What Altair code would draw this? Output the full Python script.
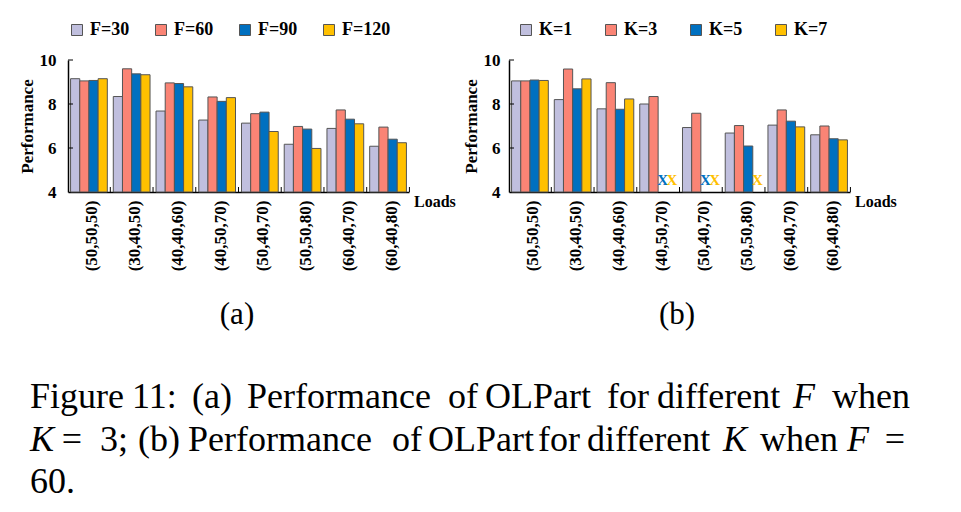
import json
import altair as alt
import pandas as pd

# ---------------- data ----------------
loads = ["(50,50,50)", "(30,40,50)", "(40,40,60)", "(40,50,70)",
         "(50,40,70)", "(50,50,80)", "(60,40,70)", "(60,40,80)"]

f_series = ["F=30", "F=60", "F=90", "F=120"]
f30 = [9.15, 8.34, 7.68, 7.27, 7.13, 6.17, 6.89, 6.08]
f60 = [9.05, 9.60, 8.96, 8.32, 7.56, 6.98, 7.73, 6.95]
f90 = [9.07, 9.37, 8.93, 8.12, 7.63, 6.86, 7.31, 6.40]
f120 = [9.15, 9.33, 8.78, 8.29, 6.75, 5.98, 7.10, 6.24]

k_series = ["K=1", "K=3", "K=5", "K=7"]
k1 = [9.05, 8.20, 7.78, 8.00, 6.93, 6.68, 7.04, 6.60]
k3 = [9.05, 9.59, 8.97, 8.34, 7.58, 7.02, 7.73, 7.00]
k5 = [9.09, 8.69, 7.76, None, None, 6.09, 7.22, 6.42]
k7 = [9.07, 9.14, 8.23, None, None, None, 6.96, 6.37]

y_ticks = [4, 6, 8, 10]

colors = ["#C0BFDE", "#FA8475", "#0070C0", "#FFC000"]
x_colors = ["#C0BFDE", "#FA8475", "#2F8AD6", "#FFC000"]

# ---------------- layout ----------------
W, H = 341, 132
OX, OY = 68, 60          # absolute position of panel (a) plot origin
BX = 509                 # absolute x of panel (b) plot origin
SERIF = "Liberation Serif"
GROUP_FILL = 0.86        # share of each category slot covered by its 4 bars
X_DOMAIN = [-0.49, len(loads) - 0.51]

caption_words = [
    # text, x, baseline y, italic, align
    ("Figure", 30, 408, False, "left"), ("11:", 132, 408, False, "left"),
    ("(a)", 192, 408, False, "left"), ("Performance", 247, 408, False, "left"),
    ("of", 448, 408, False, "left"), ("OLPart", 485, 408, False, "left"),
    ("for", 607, 408, False, "left"), ("different", 657, 408, False, "left"),
    ("F", 793, 408, True, "left"), ("when", 832, 408, False, "left"),
    ("K", 30, 451, True, "left"), ("=", 72, 451, False, "center"),
    ("3;", 100, 451, False, "left"), ("(b)", 138, 451, False, "left"),
    ("Performance", 188, 451, False, "left"), ("of", 392, 451, False, "left"),
    ("OLPart", 428, 451, False, "left"), ("for", 538, 451, False, "left"),
    ("different", 587, 451, False, "left"), ("K", 723, 451, True, "left"),
    ("when", 760, 451, False, "left"), ("F", 847, 451, True, "left"),
    ("=", 895, 451, False, "center"),
    ("60.", 30, 493, False, "left"),
]

one = pd.DataFrame({"d": [0]})
label_expr = json.dumps(loads) + "[datum.value]"


def make_panel(series, cols, legend_x, col_pad, sub_label, sub_x, origin_x,
               label_pad, extra=None):
    n = len(series)
    bw = GROUP_FILL / n
    rows = []
    for si, (s, vals) in enumerate(zip(series, cols)):
        for gi, (l, v) in enumerate(zip(loads, vals)):
            x0 = gi - GROUP_FILL / 2 + si * bw
            rows.append({"load": l, "series": s, "value": v,
                         "x0": x0, "x1": x0 + bw, "xc": x0 + bw / 2})
    df = pd.DataFrame(rows)
    bars_df = df[df["value"].notna()]
    miss_df = df[df["value"].isna()].copy()
    miss_df["value"] = 4.0
    miss_df["mark"] = "X"

    x_scale = alt.Scale(domain=X_DOMAIN, nice=False, zero=False)
    x_axis = alt.Axis(title=None, values=list(range(len(loads))), labelExpr=label_expr,
                      labelAngle=270, ticks=False, grid=False,
                      labelPadding=8, labelOffset=3,
                      labelFont=SERIF, labelFontSize=17,
                      labelFontWeight="bold", labelColor="black",
                      domainColor="black", domainWidth=1.5)
    y_enc = alt.Y("value:Q",
                  scale=alt.Scale(domain=[4, 10], nice=False, zero=False),
                  axis=alt.Axis(values=y_ticks, title="Performance", ticks=False,
                                grid=False, labelPadding=label_pad,
                                labelFont=SERIF, labelFontSize=17,
                                labelFontWeight="bold", labelColor="black",
                                titleFont=SERIF, titleFontSize=17,
                                titleFontWeight="bold", titleColor="black",
                                titlePadding=3,
                                domainColor="black", domainWidth=1.5))
    c_scale = alt.Scale(domain=series, range=colors)

    bars = alt.Chart(bars_df).mark_bar(stroke="#555555", strokeWidth=1).encode(
        x=alt.X("x0:Q", scale=x_scale, axis=x_axis), x2="x1:Q",
        y=y_enc, y2=alt.datum(4),
        color=alt.Color("series:N", sort=series, scale=c_scale,
                        legend=alt.Legend(orient="none", legendX=legend_x, legendY=-39,
                                          direction="horizontal", title=None,
                                          symbolType="square", symbolSize=121,
                                          symbolStrokeColor="#555555",
                                          symbolStrokeWidth=1, labelOffset=4,
                                          labelFont=SERIF, labelFontSize=18,
                                          labelFontWeight="bold", labelColor="black",
                                          columnPadding=col_pad, padding=0)),
    )

    layers = [bars]

    if len(miss_df):
        marks = alt.Chart(miss_df).mark_text(
            font=SERIF, fontSize=15, fontWeight="bold", baseline="bottom", dy=-4
        ).encode(x=alt.X("xc:Q", scale=x_scale, axis=x_axis), y=y_enc, text="mark:N",
                 color=alt.Color("series:N", sort=series,
                                 scale=alt.Scale(domain=series, range=x_colors),
                                 legend=None))
        layers.append(marks)

    ticks_df = pd.DataFrame({"value": [6, 8, 10]})
    yt = alt.Chart(ticks_df).mark_rule(color="black", strokeWidth=1).encode(
        y=y_enc, x=alt.value(0), x2=alt.value(5))
    layers.append(yt)

    xt_df = pd.DataFrame({"b": [g + 0.5 for g in range(len(loads))]})
    xt = alt.Chart(xt_df).mark_rule(color="black", strokeWidth=1).encode(
        x=alt.X("b:Q", scale=x_scale, axis=x_axis),
        y=alt.value(H), y2=alt.value(H - 5))
    layers.append(xt)

    loads_lbl = alt.Chart(one).mark_text(
        font=SERIF, fontSize=16, fontWeight="bold", align="left", baseline="middle",
        color="black").encode(x=alt.value(W + 5), y=alt.value(H + 10),
                              text=alt.value("Loads"))
    layers.append(loads_lbl)

    sub = alt.Chart(one).mark_text(
        font=SERIF, fontSize=31, align="center", baseline="alphabetic",
        color="black").encode(x=alt.value(sub_x - origin_x), y=alt.value(324 - OY),
                              text=alt.value(sub_label))
    layers.append(sub)

    if extra:
        layers.extend(extra)

    return alt.layer(*layers).properties(width=W, height=H)


caption_layers = []
for word, x, y, it, al in caption_words:
    caption_layers.append(
        alt.Chart(one).mark_text(
            font=SERIF, fontSize=36, align=al, baseline="alphabetic",
            fontStyle="italic" if it else "normal", color="black"
        ).encode(x=alt.value(x - OX), y=alt.value(y - OY), text=alt.value(word))
    )

panel_a = make_panel(f_series, [f30, f60, f90, f120], legend_x=0, col_pad=22,
                     sub_label="(a)", sub_x=237, origin_x=OX, label_pad=12,
                     extra=caption_layers)
panel_b = make_panel(k_series, [k1, k3, k5, k7], legend_x=8, col_pad=29,
                     sub_label="(b)", sub_x=677, origin_x=BX, label_pad=9)

chart = alt.hconcat(panel_a, panel_b, spacing=BX - OX - W, bounds="flush").properties(
    padding={"left": 18, "top": 21, "right": 0, "bottom": 0},
    background="white",
).resolve_scale(color="independent", x="independent", y="independent").configure_view(
    stroke=None
)

chart.save("out.html", embed_options={"renderer": "svg", "actions": False})
